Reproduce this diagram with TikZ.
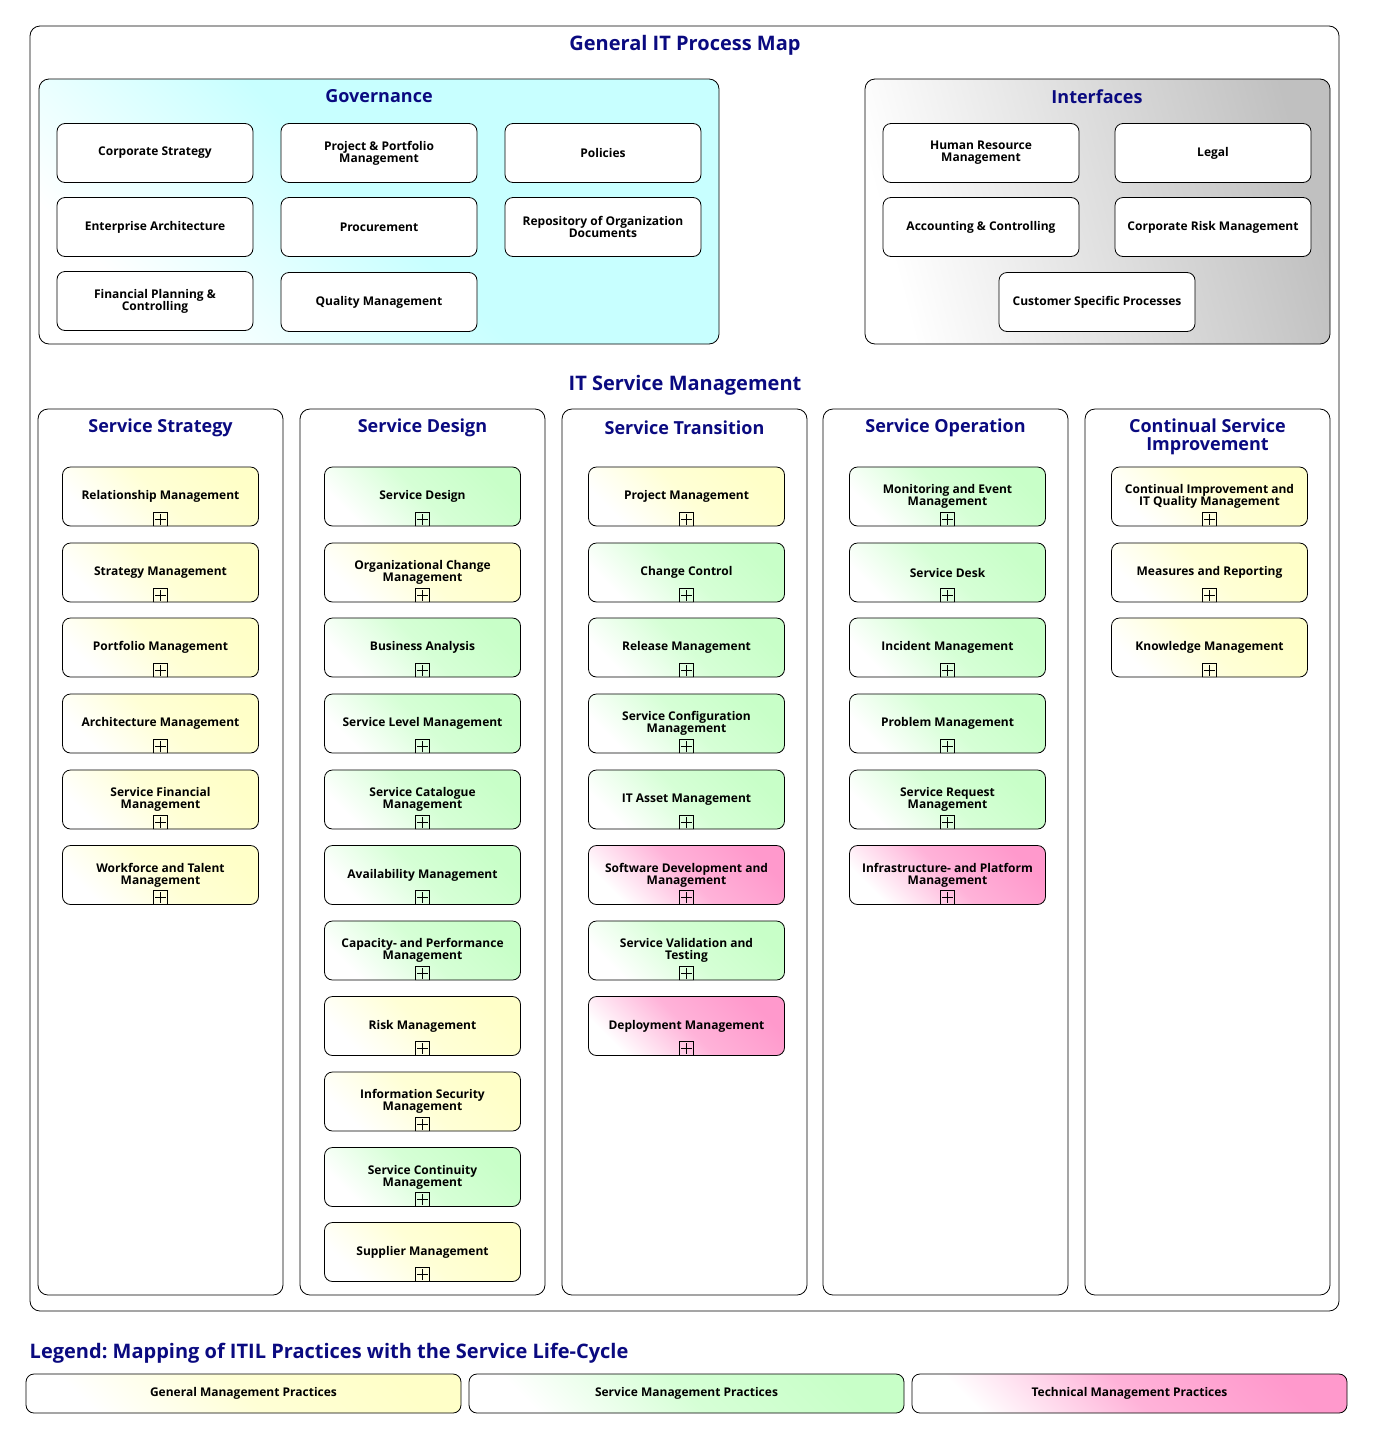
\documentclass[tikz,border=0pt]{standalone}
\usepackage{fontspec}
\setmainfont{Open Sans}
\usepackage{tikz}
\definecolor{navy}{RGB}{10,10,128}
\definecolor{gmp}{RGB}{255,255,200}
\definecolor{smp}{RGB}{200,255,200}
\definecolor{tmp}{RGB}{255,153,204}
\definecolor{gov}{RGB}{200,255,255}
\definecolor{ifc}{RGB}{192,192,192}
\frenchspacing

\begin{document}
\begin{tikzpicture}[x=1pt, y=-1pt, line width=0.8pt,
  font=\bfseries\fontsize{12}{12}\selectfont,
  b/.style={draw, rounded corners=8pt, align=center, minimum width=196pt, minimum height=59pt, inner sep=2pt, fill=white},
  sh/.style={top color=white, bottom color=#1, middle color=#1!75, shading angle=135},
  sh2/.style={top color=white, bottom color=#1, shading angle=105},
  plus/.style={path picture={
    \draw[sharp corners, line width=0.8pt] ([xshift=-7pt]path picture bounding box.south) rectangle ([xshift=7pt,yshift=14pt]path picture bounding box.south);
    \draw[sharp corners, line width=0.7pt] ([xshift=-5.5pt,yshift=7pt]path picture bounding box.south) -- ([xshift=5.5pt,yshift=7pt]path picture bounding box.south);
    \draw[sharp corners, line width=0.7pt] ([yshift=1.5pt]path picture bounding box.south) -- ([yshift=12.5pt]path picture bounding box.south);}},
  G/.style={b, plus, sh=gmp}, S/.style={b, plus, sh=smp}, T/.style={b, plus, sh=tmp},
  frame/.style={draw, rounded corners=10pt, inner sep=0pt},
  h/.style={text=navy, font=\bfseries\fontsize{18}{18}\selectfont, align=center},
  lg/.style={draw, rounded corners=8pt, minimum width=435pt, minimum height=39pt}]
 \useasboundingbox (0,0) rectangle (1373,1438);
 % Frames
 \node[frame, minimum width=1309pt, minimum height=1285pt] (map) at (684.5,668.5) {};
 \node[frame, top color=white, bottom color=gov, middle color=gov, shading angle=135, minimum width=680pt, minimum height=265pt] (gov) at (379,211.5) {};
 \node[frame, sh2=ifc, minimum width=465pt, minimum height=265pt] (ifc) at (1097.5,211.5) {};
 \node[h, font=\bfseries\fontsize{20}{24}\selectfont] (tmap) at (685,45) {General IT Process Map};
 \node[h] (tgov) at (379,96.5) {Governance};
 \node[h] (tifc) at (1097,96.5) {Interfaces};
 \node[h, font=\bfseries\fontsize{20}{24}\selectfont] (titsm) at (685,385) {IT Service Management};
 % Governance
 \node[b] (g1) at (155,153) {Corporate Strategy};
 \node[b] (g2) at (379,153) {Project \& Portfolio\\Management};
 \node[b] (g3) at (603,153) {Policies};
 \node[b] (g4) at (155,227) {Enterprise Architecture};
 \node[b] (g5) at (379,227) {Procurement};
 \node[b] (g6) at (603,227) {Repository of Organization\\Documents};
 \node[b] (g7) at (155,301) {Financial Planning \&\\Controlling};
 \node[b] (g8) at (379,302) {Quality Management};
 % Interfaces
 \node[b] (i1) at (981,153) {Human Resource\\Management};
 \node[b] (i2) at (1213,153) {Legal};
 \node[b] (i3) at (981,227) {Accounting \& Controlling};
 \node[b] (i4) at (1213,227) {Corporate Risk Management};
 \node[b] (i5) at (1097,302) {Customer Specific Processes};
 % Life-cycle columns
 \node[frame, minimum width=245pt, minimum height=886pt] (css) at (160.5,852) {};
 \node[frame, minimum width=245pt, minimum height=886pt] (csd) at (422.5,852) {};
 \node[frame, minimum width=245pt, minimum height=886pt] (cst) at (684.5,852) {};
 \node[frame, minimum width=245pt, minimum height=886pt] (cso) at (945.5,852) {};
 \node[frame, minimum width=245pt, minimum height=886pt] (csi) at (1207.5,852) {};
 \node[h] (tss) at (160.5,427.5) {Service Strategy};
 \node[h] (tsd) at (422.5,427.5) {Service Design};
 \node[h] (tst) at (684.5,427.5) {Service Transition};
 \node[h] (tso) at (945.5,427.5) {Service Operation};
 \node[h] (tsi) at (1207.5,436.5) {Continual Service\\Improvement};
 % Service Strategy
 \node[G] (ss1) at (160.5,496.5) {Relationship Management};
 \node[G] (ss2) at (160.5,572.5) {Strategy Management};
 \node[G] (ss3) at (160.5,647.5) {Portfolio Management};
 \node[G] (ss4) at (160.5,723.5) {Architecture Management};
 \node[G] (ss5) at (160.5,799.5) {Service Financial\\Management};
 \node[G] (ss6) at (160.5,875) {Workforce and Talent\\Management};
 % Service Design
 \node[S] (sd1) at (422.5,496.5) {Service Design};
 \node[G] (sd2) at (422.5,572.5) {Organizational Change\\Management};
 \node[S] (sd3) at (422.5,647.5) {Business Analysis};
 \node[S] (sd4) at (422.5,723.5) {Service Level Management};
 \node[S] (sd5) at (422.5,799.5) {Service Catalogue\\Management};
 \node[S] (sd6) at (422.5,875) {Availability Management};
 \node[S] (sd7) at (422.5,950.5) {Capacity- and Performance\\Management};
 \node[G] (sd8) at (422.5,1026) {Risk Management};
 \node[G] (sd9) at (422.5,1101.5) {Information Security\\Management};
 \node[S] (sd10) at (422.5,1177) {Service Continuity\\Management};
 \node[G] (sd11) at (422.5,1252) {Supplier Management};
 % Service Transition
 \node[G] (st1) at (686.5,496.5) {Project Management};
 \node[S] (st2) at (686.5,572.5) {Change Control};
 \node[S] (st3) at (686.5,647.5) {Release Management};
 \node[S] (st4) at (686.5,723.5) {Service Configuration\\Management};
 \node[S] (st5) at (686.5,799.5) {IT Asset Management};
 \node[T] (st6) at (686.5,875) {Software Development and\\Management};
 \node[S] (st7) at (686.5,950.5) {Service Validation and\\Testing};
 \node[T] (st8) at (686.5,1026) {Deployment Management};
 % Service Operation
 \node[S] (so1) at (947.5,496.5) {Monitoring and Event\\Management};
 \node[S] (so2) at (947.5,572.5) {Service Desk};
 \node[S] (so3) at (947.5,647.5) {Incident Management};
 \node[S] (so4) at (947.5,723.5) {Problem Management};
 \node[S] (so5) at (947.5,799.5) {Service Request\\Management};
 \node[T] (so6) at (947.5,875) {Infrastructure- and Platform\\Management};
 % Continual Service Improvement
 \node[G] (ci1) at (1209.5,496.5) {Continual Improvement and\\IT Quality Management};
 \node[G] (ci2) at (1209.5,572.5) {Measures and Reporting};
 \node[G] (ci3) at (1209.5,647.5) {Knowledge Management};
 % Legend
 \node[h, anchor=west, font=\bfseries\fontsize{20}{24}\selectfont] (tlg) at (26,1353) {Legend: Mapping of ITIL Practices with the Service Life-Cycle};
 \node[lg, sh=gmp] (l1) at (243.5,1393.5) {General Management Practices};
 \node[lg, sh=smp] (l2) at (686.5,1393.5) {Service Management Practices};
 \node[lg, sh=tmp] (l3) at (1129.5,1393.5) {Technical Management Practices};
\end{tikzpicture}
\end{document}
